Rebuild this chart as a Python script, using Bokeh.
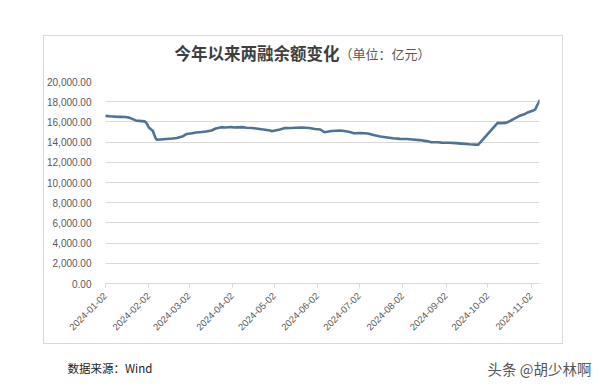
import pandas as pd
from math import pi
from bokeh.plotting import figure
from bokeh.layouts import column
from bokeh.models import (Range1d, FixedTicker, NumeralTickFormatter, DatetimeTickFormatter,
                          Label, ColumnDataSource)
from bokeh.embed import file_html
from bokeh.resources import INLINE

# ---------------- data ----------------
title_main = "今年以来两融余额变化"
title_unit = "（单位：亿元）"
source_note = "数据来源：Wind"
watermark = "头条 @胡少林啊"

dates = [
    "2024-01-02", "2024-01-05", "2024-01-09", "2024-01-12", "2024-01-16", "2024-01-19",
    "2024-01-22", "2024-01-24", "2024-01-26", "2024-01-30", "2024-01-31", "2024-02-01",
    "2024-02-02", "2024-02-05", "2024-02-06", "2024-02-07", "2024-02-08", "2024-02-19",
    "2024-02-22", "2024-02-26", "2024-02-29", "2024-03-04", "2024-03-07", "2024-03-11",
    "2024-03-14", "2024-03-18", "2024-03-21", "2024-03-25", "2024-03-28", "2024-04-01",
    "2024-04-03", "2024-04-09", "2024-04-12", "2024-04-16", "2024-04-19", "2024-04-24",
    "2024-04-29", "2024-04-30", "2024-05-06", "2024-05-09", "2024-05-14", "2024-05-17",
    "2024-05-22", "2024-05-27", "2024-05-31", "2024-06-04", "2024-06-06", "2024-06-07",
    "2024-06-12", "2024-06-18", "2024-06-21", "2024-06-25", "2024-06-28", "2024-07-03",
    "2024-07-08", "2024-07-12", "2024-07-17", "2024-07-22", "2024-07-26", "2024-07-31",
    "2024-08-05", "2024-08-09", "2024-08-14", "2024-08-19", "2024-08-22", "2024-08-27",
    "2024-08-30", "2024-09-04", "2024-09-09", "2024-09-13", "2024-09-19", "2024-09-23",
    "2024-09-25", "2024-10-09", "2024-10-11", "2024-10-15", "2024-10-18", "2024-10-22",
    "2024-10-24", "2024-10-28", "2024-10-30", "2024-11-01", "2024-11-04", "2024-11-05",
    "2024-11-06", "2024-11-07", "2024-11-08",
]
balances = [
    16600, 16560, 16520, 16500, 16480, 16420,
    16250, 16120, 16100, 16050, 15950, 15750,
    15450, 15100, 14700, 14350, 14230, 14350,
    14400, 14550, 14800, 14880, 14950, 15000,
    15050, 15150, 15350, 15480, 15450, 15500,
    15450, 15480, 15420, 15400, 15350, 15250,
    15150, 15080, 15250, 15380, 15400, 15420,
    15450, 15400, 15300, 15250, 15050, 14980,
    15100, 15150, 15100, 15000, 14880, 14900,
    14850, 14700, 14550, 14450, 14380, 14320,
    14300, 14250, 14200, 14100, 14000, 13980,
    13950, 13930, 13900, 13850, 13780, 13750,
    13730, 15900, 15880, 15900, 16100, 16400,
    16550, 16750, 16900, 17000, 17150, 17250,
    17550, 17800, 18100,
]
x_tick_labels = ["2024-01-02", "2024-02-02", "2024-03-02", "2024-04-02", "2024-05-02",
                 "2024-06-02", "2024-07-02", "2024-08-02", "2024-09-02", "2024-10-02",
                 "2024-11-02"]
y_ticks = [0, 2000, 4000, 6000, 8000, 10000, 12000, 14000, 16000, 18000, 20000]

# ---------------- layout constants ----------------
BOX_LEFT, BOX_TOP, BOX_W = 44, 36, 518
TITLE_H = 34
CHART_H = 273
FOOT_W, FOOT_H = 600, 40
GRID_COLOR = "#d9d9d9"
LABEL_COLOR = "#595959"


def text_panel(width, height, **kw):
    f = figure(width=width, height=height, x_range=(0, 1), y_range=(0, 1),
               min_border=0, toolbar_location=None, output_backend="svg",
               x_axis_location=None, y_axis_location=None, **kw)
    f.grid.visible = False
    f.outline_line_color = None
    return f


# ---- title strip (inside the box; its frame gets aligned with the chart frame) ----
t = text_panel(BOX_W, TITLE_H)
t.add_layout(Label(x=69, y=18, x_units="screen", y_units="screen", text=title_main,
                   text_font="Noto Sans CJK SC", text_font_style="bold", text_font_size="16.5px",
                   text_color="#3f3f3f", text_baseline="middle", text_align="left"))
t.add_layout(Label(x=234, y=17, x_units="screen", y_units="screen", text=title_unit,
                   text_font="Noto Sans CJK SC", text_font_size="13px",
                   text_color=LABEL_COLOR, text_baseline="middle", text_align="left"))

# ---- chart ----
dt = pd.to_datetime(dates)
src = ColumnDataSource(dict(date=dt, balance=balances))

p = figure(width=BOX_W, height=CHART_H, x_axis_type="datetime",
           output_backend="svg", toolbar_location=None,
           min_border_left=60, min_border_right=23, min_border_top=11, min_border_bottom=60,
           x_range=Range1d(dt[0], dt[-1]), y_range=Range1d(y_ticks[0], y_ticks[-1]))
p.outline_line_color = None

p.line("date", "balance", source=src, line_color="#4f7299", line_width=2.6,
       line_join="round", line_cap="round")

tick_ms = [pd.Timestamp(s).value // 10**6 for s in x_tick_labels]
p.xaxis.ticker = FixedTicker(ticks=tick_ms)
fmt = "%Y-%m-%d"
p.xaxis.formatter = DatetimeTickFormatter(milliseconds=fmt, seconds=fmt, minsec=fmt, minutes=fmt,
                                          hourmin=fmt, hours=fmt, days=fmt, months=fmt, years=fmt)
p.xaxis.major_label_orientation = pi / 4
p.xaxis.axis_line_color = GRID_COLOR
p.xaxis.major_tick_line_color = GRID_COLOR
p.xaxis.major_tick_in = 0
p.xaxis.major_tick_out = 4
p.xaxis.minor_tick_line_color = None
p.xaxis.major_label_text_font = "Liberation Sans"
p.xaxis.major_label_text_font_size = "9.5px"
p.xaxis.major_label_text_color = LABEL_COLOR
p.xaxis.major_label_standoff = 7
p.xgrid.grid_line_color = None

p.yaxis.ticker = FixedTicker(ticks=y_ticks)
p.yaxis.formatter = NumeralTickFormatter(format="0,0.00")
p.yaxis.axis_line_color = None
p.yaxis.major_tick_line_color = None
p.yaxis.minor_tick_line_color = None
p.yaxis.major_label_text_font = "Liberation Sans"
p.yaxis.major_label_text_font_size = "10px"
p.yaxis.major_label_text_color = LABEL_COLOR
p.yaxis.major_label_standoff = 8
p.ygrid.grid_line_color = GRID_COLOR
p.ygrid.grid_line_width = 1

box = column(t, p, spacing=0, margin=(BOX_TOP, 0, 0, BOX_LEFT),
             styles={"outline": "1px solid " + GRID_COLOR})

# ---- footer (below the box) ----
foot = text_panel(FOOT_W, FOOT_H)
foot.background_fill_color = None
foot.border_fill_color = None
foot.add_layout(Label(x=67, y=15.5, x_units="screen", y_units="screen", text=source_note,
                      text_font="Noto Sans CJK SC", text_font_size="11.5px",
                      text_color="#222222", text_baseline="middle", text_align="left"))
foot.add_layout(Label(x=487, y=15.5, x_units="screen", y_units="screen", text=watermark,
                      text_font="Noto Sans CJK SC", text_font_size="14.5px",
                      text_color="#555555", text_baseline="middle", text_align="left"))

layout = column(box, foot, spacing=0)

open("out.html", "w").write(file_html(layout, INLINE))
